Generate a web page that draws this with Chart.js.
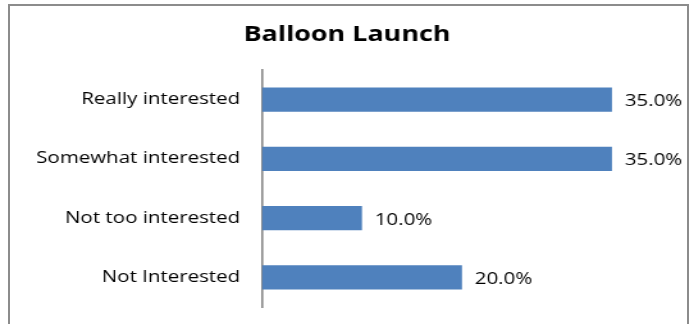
<!DOCTYPE html>
<html>
<head>
<meta charset="utf-8">
<script src="https://cdn.jsdelivr.net/npm/chart.js@4.4.1/dist/chart.umd.min.js"></script>
<style>
  html, body { margin: 0; padding: 0; background: #fff; }
  #wrap { position: relative; width: 694px; height: 324px; overflow: hidden; }
  #frame {
    position: absolute; left: 8px; top: 4px; width: 677px; height: 340px;
    border: 2px solid #8c8c8c;
  }
  #chart { position: absolute; left: 0; top: 0; }
</style>
</head>
<body>
<div id="wrap">
  <div id="frame"></div>
  <!-- drawn narrow, then widened by css so the lettering comes out broad -->
  <canvas id="chart" width="542" height="324" style="width:694px;height:324px"></canvas>
</div>
<script>
// survey answers, top to bottom
const categories = ['Really interested', 'Somewhat interested', 'Not too interested', 'Not Interested'];
const shares = [35, 35, 10, 20];
const axisMax = 40;

const FONT = "'Open Sans', 'DejaVu Sans', sans-serif";

// writes the percentage just past the end of every bar
const valueLabels = {
    id: 'valueLabels',
    afterDatasetsDraw(chart) {
        const ctx = chart.ctx;
        const meta = chart.getDatasetMeta(0);
        ctx.save();
        ctx.font = `16px ${FONT}`;
        ctx.fillStyle = '#000';
        ctx.textAlign = 'left';
        ctx.textBaseline = 'middle';
        meta.data.forEach((bar, i) => {
            ctx.fillText(shares[i].toFixed(1) + '%', bar.x + 10, bar.y + 2);
        });
        ctx.restore();
    }
};

new Chart(document.getElementById('chart').getContext('2d'), {
    type: 'bar',
    data: {
        labels: categories,
        datasets: [{
            data: shares,
            backgroundColor: '#4f81bd',
            borderWidth: 0,
            categoryPercentage: 1,
            barPercentage: 0.41
        }]
    },
    options: {
        indexAxis: 'y',
        responsive: false,
        animation: false,
        devicePixelRatio: 1,
        layout: { padding: { left: 25, right: 25, top: 0, bottom: 17 } },
        scales: {
            x: { display: false, min: 0, max: axisMax },
            y: {
                grid: { display: false, drawTicks: false },
                border: { display: true, color: '#868686', width: 1.6 },
                ticks: {
                    color: '#000',
                    padding: 17,
                    font: { family: FONT, size: 16 }
                },
                afterFit(scale) {
                    scale.width = 179.6;
                    scale.paddingTop = 0;
                    scale.paddingBottom = 0;
                }
            }
        },
        plugins: {
            legend: { display: false },
            tooltip: { enabled: false },
            title: {
                display: true,
                text: 'Balloon Launch',
                color: '#000',
                font: { family: FONT, size: 21, weight: 'bold', lineHeight: 1.2 },
                padding: { top: 22, bottom: 22.8 }
            }
        }
    },
    plugins: [valueLabels]
});
</script>
</body>
</html>
